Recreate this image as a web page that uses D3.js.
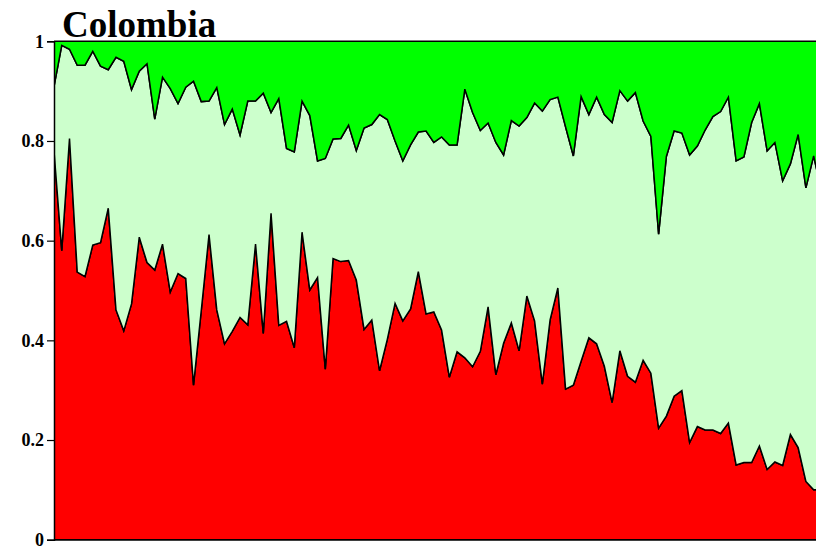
<!DOCTYPE html>
<html>
<head>
<meta charset="utf-8">
<script src="https://cdn.jsdelivr.net/npm/d3@7/dist/d3.min.js"></script>
<style>
  html, body { margin: 0; padding: 0; background: #fff; }
  svg { display: block; }
</style>
</head>
<body>
<svg id="chart" width="816" height="550"></svg>
<script>
// Colombia: three stacked shares per observation, drawn as band boundaries
const title = "Colombia";
const yTicks = [0, 0.2, 0.4, 0.6, 0.8, 1];
const yTickLabels = ["0", "0.2", "0.4", "0.6", "0.8", "1"];

// upper edge of the red band
const lowerBound = [
  0.780, 0.580, 0.805, 0.537, 0.528, 0.591, 0.596, 0.665, 0.461, 0.419,
  0.473, 0.607, 0.556, 0.541, 0.593, 0.497, 0.534, 0.524, 0.310, 0.460,
  0.612, 0.461, 0.393, 0.418, 0.446, 0.431, 0.593, 0.414, 0.655, 0.430,
  0.438, 0.385, 0.617, 0.501, 0.526, 0.342, 0.564, 0.558, 0.560, 0.521,
  0.422, 0.441, 0.339, 0.402, 0.474, 0.439, 0.463, 0.538, 0.453, 0.457,
  0.421, 0.326, 0.377, 0.365, 0.347, 0.378, 0.467, 0.331, 0.394, 0.435,
  0.379, 0.489, 0.439, 0.312, 0.441, 0.505, 0.302, 0.310, 0.358, 0.405,
  0.393, 0.348, 0.275, 0.379, 0.328, 0.316, 0.360, 0.334, 0.224, 0.248,
  0.288, 0.299, 0.195, 0.227, 0.220, 0.220, 0.213, 0.234, 0.150, 0.155,
  0.155, 0.188, 0.141, 0.156, 0.149, 0.211, 0.185, 0.117, 0.100, 0.100
];

// upper edge of the light green band
const upperBound = [
  0.909, 0.992, 0.984, 0.952, 0.952, 0.980, 0.950, 0.943, 0.968, 0.960,
  0.903, 0.940, 0.955, 0.844, 0.928, 0.905, 0.875, 0.908, 0.920, 0.879,
  0.880, 0.907, 0.833, 0.864, 0.812, 0.880, 0.880, 0.896, 0.857, 0.885,
  0.785, 0.778, 0.880, 0.851, 0.760, 0.765, 0.804, 0.805, 0.832, 0.781,
  0.826, 0.833, 0.853, 0.843, 0.800, 0.760, 0.792, 0.818, 0.820, 0.797,
  0.808, 0.792, 0.792, 0.904, 0.857, 0.821, 0.836, 0.797, 0.772, 0.841,
  0.830, 0.847, 0.876, 0.860, 0.883, 0.888, 0.828, 0.770, 0.889, 0.853,
  0.888, 0.853, 0.837, 0.901, 0.880, 0.897, 0.840, 0.809, 0.613, 0.769,
  0.820, 0.816, 0.772, 0.790, 0.822, 0.849, 0.859, 0.888, 0.760, 0.768,
  0.837, 0.875, 0.780, 0.797, 0.720, 0.754, 0.813, 0.706, 0.770, 0.700
];

const bandColors = ["#ff0000", "#ccffcc", "#00ff00"];

const svg = d3.select("#chart");
const n = lowerBound.length;

const x = d3.scaleLinear().domain([0, n - 1]).range([54, 821.4]);
const y = d3.scaleLinear().domain([0, 1]).range([539.7, 41.3]);

const rows = d3.range(n).map(i => ({ i, lo: lowerBound[i], hi: upperBound[i] }));

const bands = [
  { fill: bandColors[0], y0: d => 0,    y1: d => d.lo },
  { fill: bandColors[1], y0: d => d.lo, y1: d => d.hi },
  { fill: bandColors[2], y0: d => d.hi, y1: d => 1 }
];

const plot = svg.append("g");
plot.append("clipPath").attr("id", "plotClip")
  .append("rect").attr("x", 54).attr("y", 30).attr("width", 762).attr("height", 520);

const gBands = plot.append("g").attr("clip-path", "url(#plotClip)");
bands.forEach(b => {
  const area = d3.area()
    .x(d => x(d.i))
    .y0(d => y(b.y0(d)))
    .y1(d => y(b.y1(d)));
  gBands.append("path")
    .datum(rows)
    .attr("d", area)
    .attr("fill", b.fill)
    .attr("stroke", "#000")
    .attr("stroke-width", 1.5)
    .attr("stroke-linejoin", "miter");
});

// y axis
const yAxis = d3.axisLeft(y)
  .tickValues(yTicks)
  .tickFormat((d, i) => yTickLabels[i])
  .tickSize(7)
  .tickPadding(3);

const gy = svg.append("g").attr("transform", "translate(54,0)").call(yAxis);
gy.select(".domain").attr("stroke", "#000").attr("stroke-width", 1.5);
gy.selectAll(".tick line").attr("stroke", "#000").attr("stroke-width", 1.2);
gy.selectAll(".tick text")
  .attr("fill", "#000")
  .style("font-family", "'Liberation Serif', 'Times New Roman', serif")
  .style("font-weight", "bold")
  .style("font-size", "18px");

// baseline
svg.append("line")
  .attr("x1", 54).attr("x2", 816)
  .attr("y1", y(0)).attr("y2", y(0))
  .attr("stroke", "#000").attr("stroke-width", 1.5);

// title
svg.append("text")
  .attr("x", 62).attr("y", 37)
  .style("font-family", "'Liberation Serif', 'Times New Roman', serif")
  .style("font-weight", "bold")
  .style("font-size", "37px")
  .attr("fill", "#000")
  .text(title);
</script>
</body>
</html>
